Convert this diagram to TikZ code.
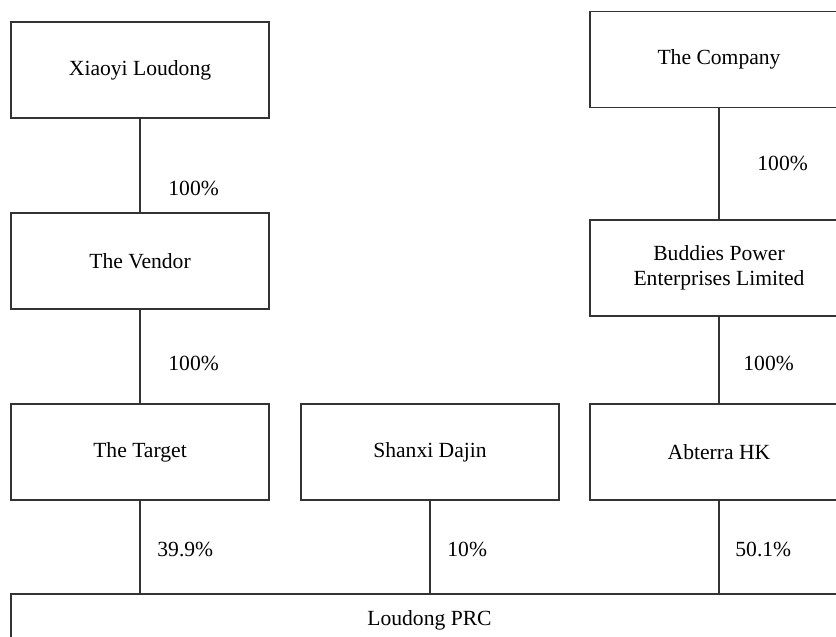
\documentclass[tikz,border=0pt]{standalone}
\usepackage{fontspec}
\setmainfont{Liberation Serif}
\usepackage{tikz}
\usetikzlibrary{positioning}

\begin{document}
\begin{tikzpicture}[
            x=0.5pt, y=-0.5pt,
            font=\fontsize{10.8}{12.5}\selectfont,
            entity/.style={draw=black!80, line width=0.6pt, align=center, inner sep=4pt, minimum width=129pt, minimum height=48pt},
            share/.style={anchor=west, inner sep=0pt},
            link/.style={line width=0.6pt, black!80}
        ]
            \clip (0,0) rectangle (836,637);

            % ====== Vendor side ======
            \node[entity] (xiaoyi) at (140, 70) {Xiaoyi Loudong};
            \node[entity] (vendor) at (140, 261) {The Vendor};
            \node[entity] (target) at (140, 452) {The Target};

            % ====== Company side ======
            \node[entity] (company) at (719, 59.5) {The Company};
            \node[entity] (buddies) at (719, 268) {Buddies Power\\Enterprises Limited};
            \node[entity] (abterra) at (719, 452) {Abterra HK};

            \node[entity] (shanxi) at (430, 452) {Shanxi Dajin};

            % ====== Joint venture ======
            \node[entity, minimum width=418.5pt, minimum height=26pt] (loudong) at (429.5, 620) {Loudong PRC};

            \draw[link] (xiaoyi) -- (vendor);
            \draw[link] (vendor) -- (target);
            \draw[link] (company) -- (buddies);
            \draw[link] (buddies) -- (abterra);
            \draw[link] (target.south) -- (target.south |- loudong.north);
            \draw[link] (shanxi.south) -- (shanxi.south |- loudong.north);
            \draw[link] (abterra.south) -- (abterra.south |- loudong.north);

            % ====== Shareholdings ======
            \node[share] (pctvendor) at (168, 188) {100\%};
            \node[share] (pcttarget) at (168, 363) {100\%};
            \node[share] (pctbuddies) at (757, 163) {100\%};
            \node[share] (pctabterra) at (743, 363) {100\%};
            \node[share] (pcttl) at (157, 549) {39.9\%};
            \node[share] (pctsd) at (447, 549) {10\%};
            \node[share] (pctab) at (735, 549) {50.1\%};
        \end{tikzpicture}
\end{document}
